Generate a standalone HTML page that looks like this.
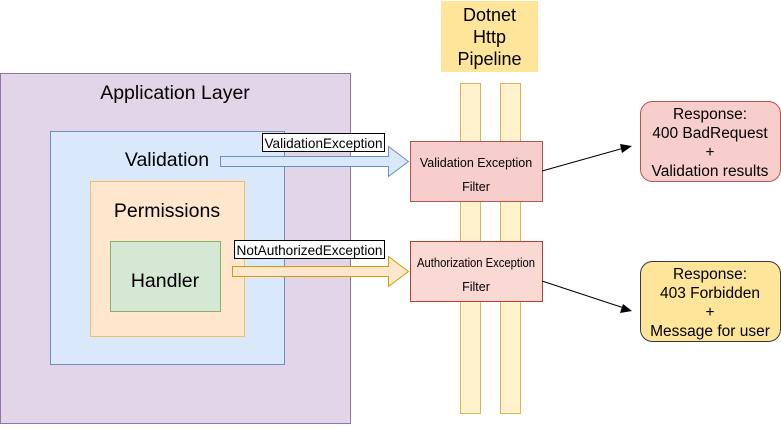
<!DOCTYPE html>
<html><head><meta charset="utf-8"><style>
body{margin:0;background:#fff}
</style></head><body>
<svg width="781" height="424" xmlns="http://www.w3.org/2000/svg" font-family="Liberation Sans, sans-serif">
<rect x="0.5" y="73.5" width="350" height="350" fill="#e1d5e7" stroke="#9673a6"/>
<text x="175" y="99" font-size="19.5" text-anchor="middle">Application Layer</text>
<rect x="50.5" y="131.5" width="234" height="233" fill="#dae8fc" stroke="#6c8ebf"/>
<text x="167" y="166" font-size="19.5" text-anchor="middle">Validation</text>
<rect x="90.5" y="181.5" width="154" height="155" fill="#ffe6cc" stroke="#f0c060"/>
<text x="167" y="217" font-size="19.5" text-anchor="middle">Permissions</text>
<rect x="110.5" y="241.5" width="110" height="70" fill="#d5e8d4" stroke="#82b366"/>
<text x="165" y="287" font-size="19.5" text-anchor="middle">Handler</text>
<rect x="441" y="1" width="97" height="71" fill="#ffe599"/>
<text x="489.5" y="21" font-size="18" text-anchor="middle">Dotnet</text>
<text x="489.5" y="43" font-size="18" text-anchor="middle">Http</text>
<text x="489.5" y="65" font-size="18" text-anchor="middle">Pipeline</text>
<rect x="460.5" y="83.5" width="20" height="330" fill="#fff2cc" stroke="#d6b656"/>
<rect x="500.5" y="83.5" width="20" height="330" fill="#fff2cc" stroke="#d6b656"/>
<polygon points="220.5,156.5 388.5,156.5 388.5,146.5 408.5,161.5 388.5,176.5 388.5,166.5 220.5,166.5" fill="#dae8fc" stroke="#6c8ebf"/>
<polygon points="232.5,266.5 388.5,266.5 388.5,256.5 408.5,271.5 388.5,286.5 388.5,276.5 232.5,276.5" fill="#ffe6cc" stroke="#d79b00"/>
<rect x="262.5" y="133.5" width="122" height="18" fill="#fff" stroke="#000"/>
<text x="323.5" y="148" font-size="14" text-anchor="middle" textLength="118" lengthAdjust="spacingAndGlyphs">ValidationException</text>
<rect x="234.5" y="240.5" width="150" height="18" fill="#fff" stroke="#000"/>
<text x="309.5" y="255" font-size="14" text-anchor="middle" textLength="146" lengthAdjust="spacingAndGlyphs">NotAuthorizedException</text>
<rect x="410.5" y="141.5" width="132" height="60" fill="#f8cecc" stroke="#b85450"/>
<text x="476" y="167" font-size="12.5" text-anchor="middle">Validation Exception</text>
<text x="476" y="191" font-size="12.5" text-anchor="middle">Filter</text>
<rect x="410.5" y="241.5" width="132" height="60" fill="#fad9d5" stroke="#ae4132"/>
<text x="476" y="267" font-size="12.5" text-anchor="middle" textLength="118" lengthAdjust="spacingAndGlyphs">Authorization Exception</text>
<text x="476" y="291" font-size="12.5" text-anchor="middle">Filter</text>
<rect x="640.5" y="101.5" width="140" height="80" rx="12" fill="#f8cecc" stroke="#b85450"/>
<g font-size="15.5" text-anchor="middle"><text x="710" y="119">Response:</text><text x="710" y="138">400 BadRequest</text><text x="710" y="157">+</text><text x="710" y="176">Validation results</text></g>
<rect x="640.5" y="261.5" width="140" height="80" rx="12" fill="#ffe599" stroke="#36393d"/>
<g font-size="15.5" text-anchor="middle"><text x="710" y="279">Response:</text><text x="710" y="298">403 Forbidden</text><text x="710" y="317">+</text><text x="710" y="336">Message for user</text></g>
<line x1="542" y1="171" x2="624" y2="148" stroke="#000"/>
<polygon points="632,146 622,153 620,144" fill="#000"/>
<line x1="542" y1="281" x2="624" y2="308" stroke="#000"/>
<polygon points="632,311 620,313 623,304" fill="#000"/>
</svg>
</body></html>
